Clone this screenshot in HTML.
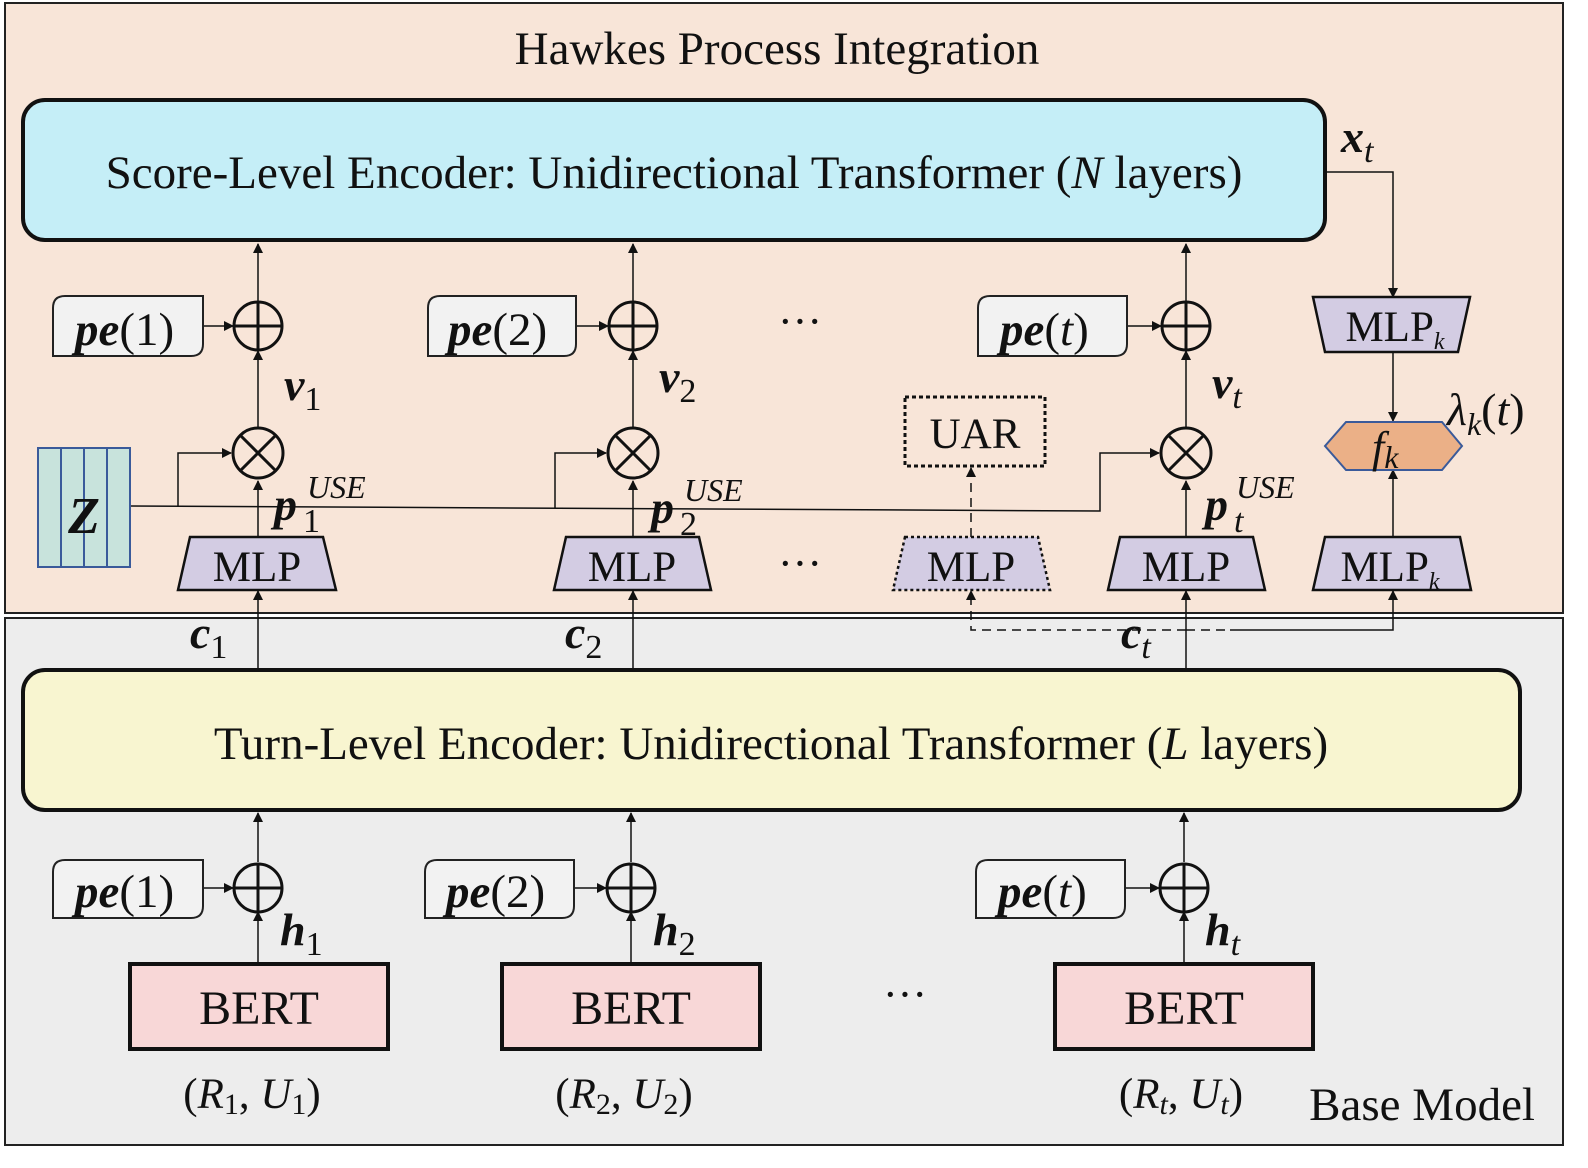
<!DOCTYPE html>
<html><head><meta charset="utf-8"><style>
html,body{margin:0;padding:0;background:#fff;}
svg{display:block;}
text{font-family:"Liberation Serif",serif;fill:#111;}
.b{font-weight:bold;font-style:italic;}
.i{font-style:italic;}
</style></head><body>
<svg width="1588" height="1168" viewBox="0 0 1588 1168" xmlns="http://www.w3.org/2000/svg">
<defs>
<marker id="a" markerWidth="10" markerHeight="10" refX="9" refY="5" orient="auto" markerUnits="userSpaceOnUse">
<path d="M0,0 L10,5 L0,10 z" fill="#111"/></marker>
</defs>
<rect x="5" y="3" width="1558" height="610" fill="#f8e5d8" stroke="#222" stroke-width="2"/>
<rect x="5" y="618" width="1558" height="527" fill="#ededed" stroke="#222" stroke-width="2"/>
<text x="777" y="64" font-size="47" text-anchor="middle">Hawkes Process Integration</text>
<text x="1535" y="1120" font-size="47" text-anchor="end">Base Model</text>

<rect x="23" y="100" width="1302" height="140" rx="22" fill="#c5eef7" stroke="#111" stroke-width="4"/>
<text x="674" y="188" font-size="47" text-anchor="middle">Score-Level Encoder: Unidirectional Transformer (<tspan class="i">N</tspan> layers)</text>
<rect x="23" y="670" width="1497" height="140" rx="22" fill="#f8f5d0" stroke="#111" stroke-width="4"/>
<text x="771" y="759" font-size="47" text-anchor="middle">Turn-Level Encoder: Unidirectional Transformer (<tspan class="i">L</tspan> layers)</text>

<g stroke="#111" stroke-width="1.5" fill="none">
<line x1="258" y1="302" x2="258" y2="244" marker-end="url(#a)"/>
<line x1="258" y1="427" x2="258" y2="351" marker-end="url(#a)"/>
<line x1="258" y1="537" x2="258" y2="481" marker-end="url(#a)"/>
<line x1="258" y1="668" x2="258" y2="591" marker-end="url(#a)"/>
<line x1="633" y1="302" x2="633" y2="244" marker-end="url(#a)"/>
<line x1="633" y1="427" x2="633" y2="351" marker-end="url(#a)"/>
<line x1="633" y1="537" x2="633" y2="481" marker-end="url(#a)"/>
<line x1="633" y1="668" x2="633" y2="591" marker-end="url(#a)"/>
<line x1="1186" y1="302" x2="1186" y2="244" marker-end="url(#a)"/>
<line x1="1186" y1="427" x2="1186" y2="351" marker-end="url(#a)"/>
<line x1="1186" y1="537" x2="1186" y2="481" marker-end="url(#a)"/>
<line x1="1186" y1="668" x2="1186" y2="591" marker-end="url(#a)"/>
<line x1="203" y1="326" x2="233" y2="326" marker-end="url(#a)"/>
<line x1="576" y1="326" x2="608" y2="326" marker-end="url(#a)"/>
<line x1="1127" y1="326" x2="1161" y2="326" marker-end="url(#a)"/>
<polyline points="130,506 1100,511 1100,453 1159,453" marker-end="url(#a)"/>
<polyline points="178,506 178,453 231,453" marker-end="url(#a)"/>
<polyline points="555,508 555,453 606,453" marker-end="url(#a)"/>
<polyline points="1325,172 1393,172 1393,297" marker-end="url(#a)"/>
<line x1="1393" y1="352" x2="1393" y2="421" marker-end="url(#a)"/>
<line x1="1393" y1="537" x2="1393" y2="470" marker-end="url(#a)"/>
<polyline points="1230,630 1393,630 1393,591" marker-end="url(#a)"/>
<line x1="1186" y1="630" x2="1230" y2="630" stroke-dasharray="9,6"/>
<polyline points="1186,630 971,630 971,591" stroke-dasharray="9,6" marker-end="url(#a)"/>
<line x1="971" y1="537" x2="971" y2="468" stroke-dasharray="9,6" marker-end="url(#a)"/>
<line x1="258" y1="862" x2="258" y2="813" marker-end="url(#a)"/>
<line x1="258" y1="963" x2="258" y2="912" marker-end="url(#a)"/>
<line x1="203" y1="888" x2="233" y2="888" marker-end="url(#a)"/>
<line x1="631" y1="862" x2="631" y2="813" marker-end="url(#a)"/>
<line x1="631" y1="963" x2="631" y2="912" marker-end="url(#a)"/>
<line x1="574" y1="888" x2="606" y2="888" marker-end="url(#a)"/>
<line x1="1184" y1="862" x2="1184" y2="813" marker-end="url(#a)"/>
<line x1="1184" y1="963" x2="1184" y2="912" marker-end="url(#a)"/>
<line x1="1125" y1="888" x2="1159" y2="888" marker-end="url(#a)"/>
</g>

<g fill="#f2f2f2" stroke="#222" stroke-width="2">
<path d="M65,296 H203 V344 Q203,356 191,356 H53 V308 Q53,296 65,296 Z"/>
<path d="M440,296 H576 V344 Q576,356 564,356 H428 V308 Q428,296 440,296 Z"/>
<path d="M990,296 H1127 V344 Q1127,356 1115,356 H978 V308 Q978,296 990,296 Z"/>
<path d="M65,860 H203 V906 Q203,918 191,918 H53 V872 Q53,860 65,860 Z"/>
<path d="M437,860 H574 V906 Q574,918 562,918 H425 V872 Q425,860 437,860 Z"/>
<path d="M988,860 H1125 V906 Q1125,918 1113,918 H976 V872 Q976,860 988,860 Z"/>
</g>
<g font-size="47">
<text x="75" y="345"><tspan class="b">pe</tspan>(1)</text>
<text x="448" y="345"><tspan class="b">pe</tspan>(2)</text>
<text x="1000" y="345"><tspan class="b">pe</tspan>(<tspan class="i">t</tspan>)</text>
<text x="75" y="907"><tspan class="b">pe</tspan>(1)</text>
<text x="446" y="907"><tspan class="b">pe</tspan>(2)</text>
<text x="998" y="907"><tspan class="b">pe</tspan>(<tspan class="i">t</tspan>)</text>
</g>

<g fill="none" stroke="#111" stroke-width="3">
<circle cx="258" cy="326" r="24"/><path d="M235,326 H281 M258,303 V349"/>
<circle cx="633" cy="326" r="24"/><path d="M610,326 H656 M633,303 V349"/>
<circle cx="1186" cy="326" r="24"/><path d="M1163,326 H1209 M1186,303 V349"/>
<circle cx="258" cy="888" r="24"/><path d="M235,888 H281 M258,865 V911"/>
<circle cx="631" cy="888" r="24"/><path d="M608,888 H654 M631,865 V911"/>
<circle cx="1184" cy="888" r="24"/><path d="M1161,888 H1207 M1184,865 V911"/>
<circle cx="258" cy="453" r="25"/><path d="M240,435 L276,471 M276,435 L240,471"/>
<circle cx="633" cy="453" r="25"/><path d="M615,435 L651,471 M651,435 L615,471"/>
<circle cx="1186" cy="453" r="25"/><path d="M1168,435 L1204,471 M1204,435 L1168,471"/>
</g>

<rect x="38" y="448" width="92" height="119" fill="#c8e3dc" stroke="#3a5a9a" stroke-width="2"/>
<g stroke="#3a5a9a" stroke-width="2"><line x1="61" y1="448" x2="61" y2="567"/><line x1="84" y1="448" x2="84" y2="567"/><line x1="107" y1="448" x2="107" y2="567"/></g>
<text x="84" y="533" font-size="52" class="b" text-anchor="middle">Z</text>

<g fill="#d3cce3" stroke="#111" stroke-width="2.5">
<polygon points="190,537 323,537 336,590 178,590"/>
<polygon points="566,537 699,537 711,590 554,590"/>
<polygon points="1120,537 1253,537 1265,590 1108,590"/>
<polygon points="1325,537 1460,537 1471,590 1313,590"/>
<polygon points="1313,297 1470,297 1458,352 1325,352"/>
<polygon points="905,537 1038,537 1050,590 893,590" stroke-dasharray="3,3"/>
</g>
<rect x="905" y="397" width="140" height="69" fill="none" stroke="#111" stroke-width="3" stroke-dasharray="4,3"/>
<text x="975" y="448" font-size="43" text-anchor="middle">UAR</text>
<g font-size="43" text-anchor="middle">
<text x="257" y="581">MLP</text>
<text x="632" y="581">MLP</text>
<text x="971" y="581">MLP</text>
<text x="1186" y="581">MLP</text>
<text x="1390" y="581">MLP<tspan font-size="24" class="i" dy="8">k</tspan></text>
<text x="1395" y="341">MLP<tspan font-size="24" class="i" dy="8">k</tspan></text>
</g>
<polygon points="1346,422 1442,422 1462,446 1442,470 1346,470 1325,446" fill="#ebb087" stroke="#3a5a9a" stroke-width="2"/>
<text x="1372" y="462" font-size="44" class="i">f<tspan font-size="32" dy="6">k</tspan></text>
<text x="1447" y="425" font-size="46" class="i">λ<tspan font-size="32" dy="10">k</tspan><tspan dy="-10" font-style="normal">(</tspan>t<tspan font-style="normal">)</tspan></text>

<g fill="#f8d7d7" stroke="#111" stroke-width="4">
<rect x="130" y="964" width="258" height="85"/>
<rect x="502" y="964" width="258" height="85"/>
<rect x="1055" y="964" width="258" height="85"/>
</g>
<g font-size="48" text-anchor="middle">
<text x="259" y="1024">BERT</text>
<text x="631" y="1024">BERT</text>
<text x="1184" y="1024">BERT</text>
</g>
<g font-size="43" text-anchor="middle">
<text x="252" y="1108">(<tspan class="i">R</tspan><tspan font-size="30" dy="6">1</tspan><tspan dy="-6">, </tspan><tspan class="i">U</tspan><tspan font-size="30" dy="6">1</tspan><tspan dy="-6">)</tspan></text>
<text x="624" y="1108">(<tspan class="i">R</tspan><tspan font-size="30" dy="6">2</tspan><tspan dy="-6">, </tspan><tspan class="i">U</tspan><tspan font-size="30" dy="6">2</tspan><tspan dy="-6">)</tspan></text>
<text x="1181" y="1108">(<tspan class="i">R</tspan><tspan font-size="30" dy="6" class="i">t</tspan><tspan dy="-6">, </tspan><tspan class="i">U</tspan><tspan font-size="30" dy="6" class="i">t</tspan><tspan dy="-6">)</tspan></text>
</g>

<g font-size="46">
<text x="284" y="400" class="b">v<tspan font-size="34" font-weight="normal" font-style="normal" dy="10">1</tspan></text>
<text x="659" y="392" class="b">v<tspan font-size="34" font-weight="normal" font-style="normal" dy="10">2</tspan></text>
<text x="1212" y="398" class="b">v<tspan font-size="34" font-weight="normal" dy="10">t</tspan></text>
<text x="274" y="520" class="b">p</text><text x="303" y="532" font-size="34">1</text><text x="307" y="498" font-size="32" class="i">USE</text>
<text x="651" y="523" class="b">p</text><text x="680" y="535" font-size="34">2</text><text x="684" y="501" font-size="32" class="i">USE</text>
<text x="1205" y="520" class="b">p</text><text x="1234" y="532" font-size="34" class="i">t</text><text x="1236" y="498" font-size="32" class="i">USE</text>
<text x="190" y="648" class="b">c<tspan font-size="34" font-weight="normal" font-style="normal" dy="10">1</tspan></text>
<text x="565" y="648" class="b">c<tspan font-size="34" font-weight="normal" font-style="normal" dy="10">2</tspan></text>
<text x="1121" y="648" class="b">c<tspan font-size="34" font-weight="normal" dy="10">t</tspan></text>
<text x="1341" y="152" class="b">x<tspan font-size="34" font-weight="normal" dy="10">t</tspan></text>
<text x="280" y="945" class="b">h<tspan font-size="34" font-weight="normal" font-style="normal" dy="10">1</tspan></text>
<text x="653" y="945" class="b">h<tspan font-size="34" font-weight="normal" font-style="normal" dy="10">2</tspan></text>
<text x="1205" y="945" class="b">h<tspan font-size="34" font-weight="normal" dy="10">t</tspan></text>
</g>
<g font-size="44" text-anchor="middle">
<text x="800" y="336">···</text>
<text x="800" y="578">···</text>
<text x="905" y="1009">···</text>
</g>
</svg>
</body></html>
